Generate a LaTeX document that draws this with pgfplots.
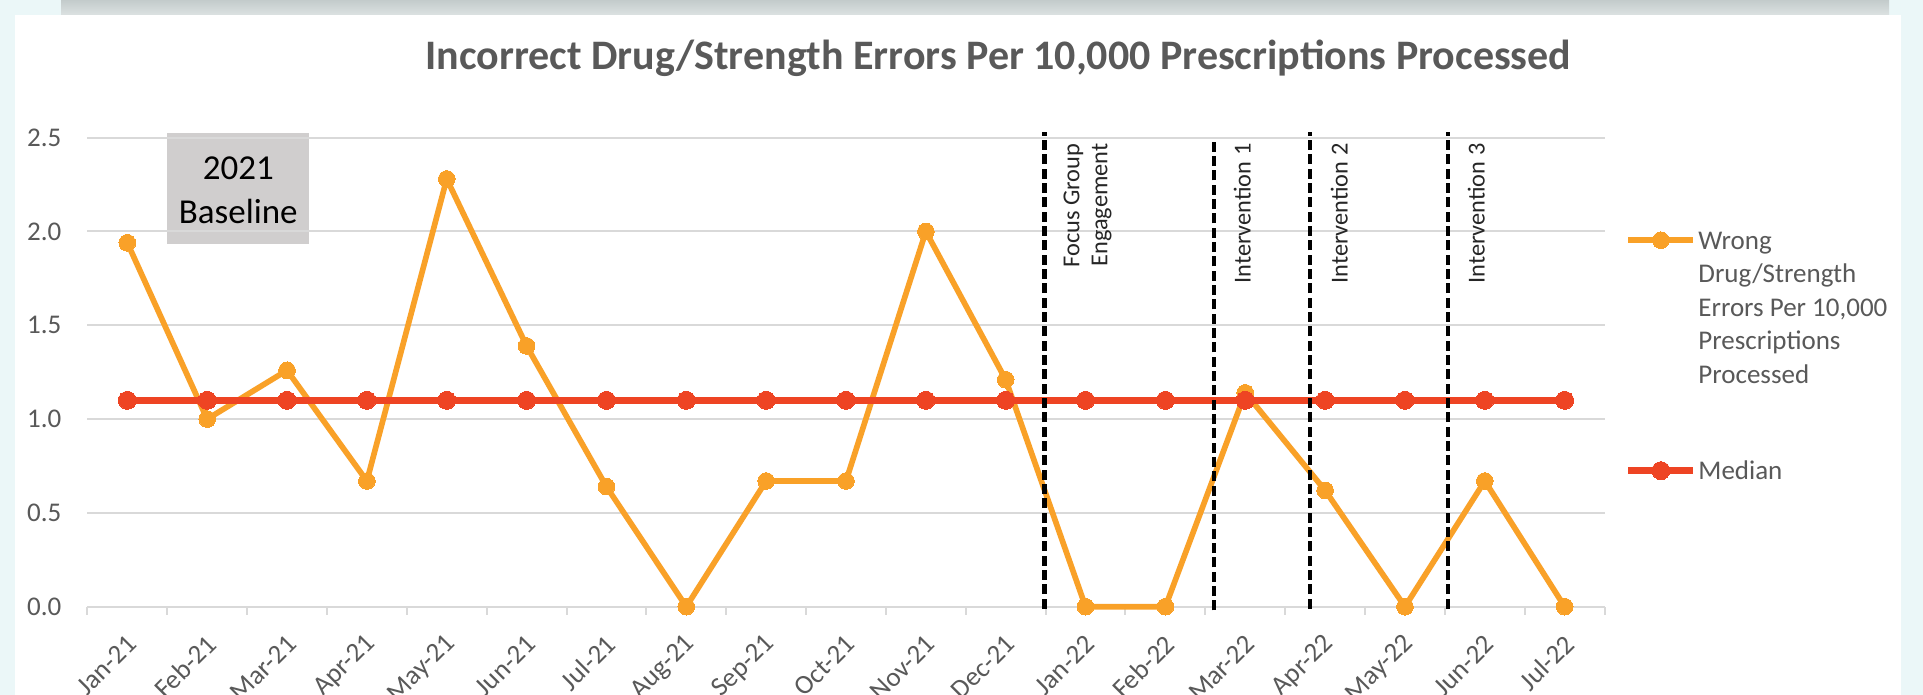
\documentclass[border=0pt]{standalone}
\usepackage{pgfplots}
\pgfplotsset{compat=1.18}
\usepackage{pgfplotstable}
\usepackage{fontspec}
\setmainfont{Carlito}
\definecolor{bgcyan}{HTML}{EBF7F8}
\definecolor{shadowtop}{HTML}{C3CBCB}
\definecolor{shadowbot}{HTML}{DCE2E2}
\definecolor{txtgray}{HTML}{595959}
\definecolor{gridgray}{HTML}{D9D9D9}
\definecolor{orangeS}{HTML}{F9A128}
\definecolor{redS}{HTML}{EE4423}
\definecolor{boxgray}{HTML}{D0CECE}
\definecolor{vlabel}{HTML}{262626}

\pgfplotstableread{
idx val
0 1.94
1 1.00
2 1.26
3 0.67
4 2.28
5 1.39
6 0.64
7 0.00
8 0.67
9 0.67
10 2.00
11 1.21
12 0.00
13 0.00
14 1.14
15 0.62
16 0.00
17 0.67
18 0.00
}\errdata

\pgfplotstableread{
idx val
0 1.10
1 1.10
2 1.10
3 1.10
4 1.10
5 1.10
6 1.10
7 1.10
8 1.10
9 1.10
10 1.10
11 1.10
12 1.10
13 1.10
14 1.10
15 1.10
16 1.10
17 1.10
18 1.10
}\meddata

\begin{document}
\begin{tikzpicture}[x=0.3pt,y=0.3pt]
\useasboundingbox (0,0) rectangle (1923,695);
\clip (0,0) rectangle (1923,695);
\fill[bgcyan] (0,0) rectangle (1923,695);
\shade[top color=shadowtop, bottom color=shadowbot] (61,680) rectangle (1889,695);
\fill[white] (15,0) rectangle (1901,680);
\node[anchor=base, font=\fontsize{12.6}{15}\selectfont\bfseries, text=txtgray, inner sep=0pt] at (998.5,625) {Incorrect Drug/Strength Errors Per 10,000 Prescriptions Processed};
\fill[boxgray] (167.3,451) rectangle (309.3,561.7);
\node[anchor=base, font=\fontsize{10.5}{13}\selectfont, inner sep=0pt] at (238.3,515) {2021};
\node[anchor=base, font=\fontsize{10.5}{13}\selectfont, inner sep=0pt] at (238.3,471) {Baseline};
\begin{axis}[
 at={(26.22pt,26.49pt)}, anchor=south west,
 scale only axis, width=455.16pt, height=140.7pt,
 xmin=-0.5, xmax=18.5, ymin=0, ymax=2.5,
 clip=false,
 axis line style={draw=none},
 xtick={0,...,18},
 xticklabels={Jan-21,Feb-21,Mar-21,Apr-21,May-21,Jun-21,Jul-21,Aug-21,Sep-21,Oct-21,Nov-21,Dec-21,Jan-22,Feb-22,Mar-22,Apr-22,May-22,Jun-22,Jul-22},
 minor xtick={-0.5,0.5,...,18.5},
 ytick={0,0.5,...,2.5},
 yticklabels={0.0,0.5,1.0,1.5,2.0,2.5},
 ymajorgrids, grid style={gridgray, line width=0.6pt},
 major tick length=0pt, minor tick length=2.4pt,
 tick align=outside, xtick pos=left, ytick pos=left,
 minor tick style={gridgray, line width=0.6pt},
 tick label style={font=\fontsize{8.1}{9.7}\selectfont, text=txtgray, inner sep=0pt},
 yticklabel style={xshift=-7.6pt},
 xticklabel style={xshift=1.5pt, yshift=-9.8pt, rotate=45, anchor=east},
 legend cell align=left,
 legend image code/.code={\draw[mark repeat=2, mark phase=2, #1] plot coordinates {(0pt,0pt) (9.75pt,0pt) (19.5pt,0pt)};},
 legend style={at={(1.0135,0.8153)}, anchor=north west, draw=none, fill=none, inner sep=0pt, outer sep=0pt, row sep=59.6pt, column sep=0pt, font=\fontsize{8.1}{10.05}\selectfont, nodes={inner sep=0.5pt, text=txtgray}},
]
\addplot[orangeS, line width=1.7pt, line join=round, mark=*, mark size=2.5pt, mark options={solid, fill=orangeS, draw=orangeS, line width=0pt}] table[x=idx,y=val]{\errdata};
\addlegendentry{\begin{tabular}[t]{@{}l@{}}Wrong\\Drug/Strength\\Errors Per 10,000\\Prescriptions\\Processed\end{tabular}}
\addplot[redS, line width=2pt, line join=round, mark=*, mark size=2.7pt, mark options={solid, fill=redS, draw=redS, line width=0pt}] table[x=idx,y=val]{\meddata};
\addlegendentry{\begin{tabular}[t]{@{}l@{}}Median\end{tabular}}
\addplot[black, line width=1.4pt, dash pattern=on 3pt off 1.3pt, forget plot] coordinates {(11.49,-0.01) (11.49,2.53)};
\addplot[black, line width=1.4pt, dash pattern=on 3pt off 1.3pt, forget plot] coordinates {(13.61,-0.02) (13.61,2.5)};
\addplot[black, line width=1.4pt, dash pattern=on 3pt off 1.3pt, forget plot] coordinates {(14.81,-0.01) (14.81,2.53)};
\addplot[black, line width=1.4pt, dash pattern=on 3pt off 1.3pt, forget plot] coordinates {(16.54,-0.01) (16.54,2.53)};
\end{axis}
\node[rotate=90, anchor=north east, inner sep=0pt, align=right, font=\fontsize{7.3}{8.4}\selectfont, text=vlabel] at (1063,552) {Focus Group\\Engagement};
\node[rotate=90, anchor=north east, inner sep=0pt, font=\fontsize{7.3}{8.4}\selectfont, text=vlabel] at (1233,552) {Intervention 1};
\node[rotate=90, anchor=north east, inner sep=0pt, font=\fontsize{7.3}{8.4}\selectfont, text=vlabel] at (1330,552) {Intervention 2};
\node[rotate=90, anchor=north east, inner sep=0pt, font=\fontsize{7.3}{8.4}\selectfont, text=vlabel] at (1467,552) {Intervention 3};
\end{tikzpicture}
\end{document}
